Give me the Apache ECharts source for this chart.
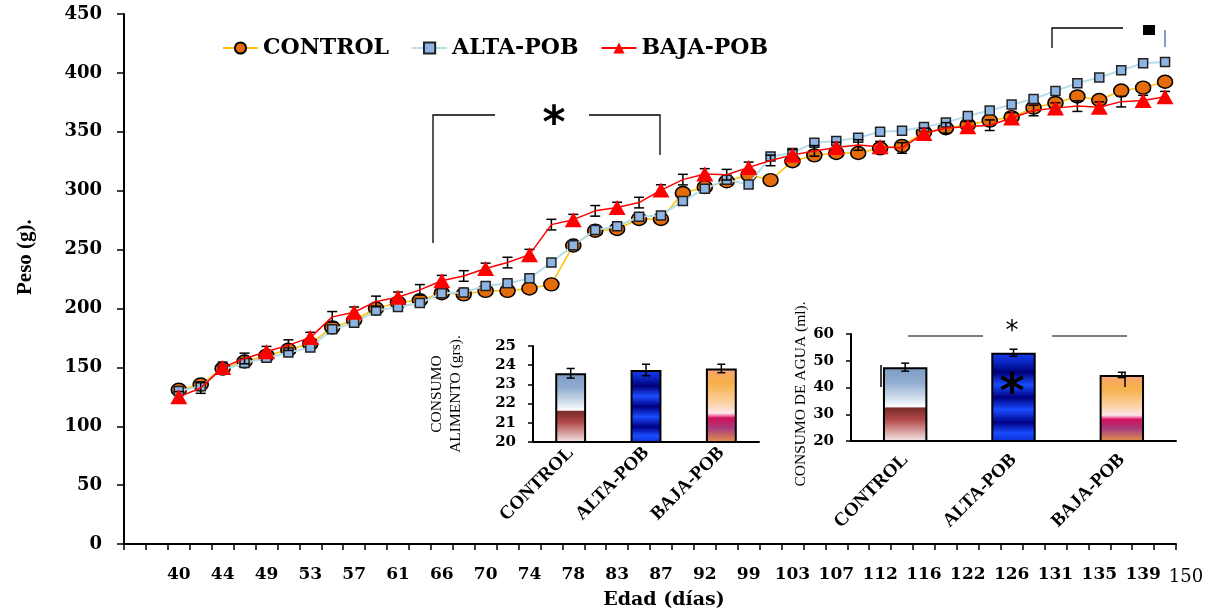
<!DOCTYPE html>
<html><head><meta charset="utf-8">
<script src="https://cdn.jsdelivr.net/npm/echarts@6/dist/echarts.min.js"></script>
<style>html,body{margin:0;padding:0;background:#fff}#c{width:1209px;height:615px}</style>
</head><body><div id="c"></div>
<script>
// ---- main chart data ----
const days = ['', '', '40','42','44','47','49','51','53','55','57','59','61','64','66','68','70','72','74','76','78','81','83','85','87','90','92','96','99','101','103','105','107','110','112','114','116','119','122','124','126','129','131','133','135','137','139','141'];
const endTickLabel = '150';
const control = [null,null,131,135.5,149,155,160,165,170,184,190,200,205,207,213,212,215,215,217,220.5,253.5,266,267.5,276,276,298,303,308,313.5,309,325,330,332,332,336,338,349.5,353,356,359.5,362.5,370.5,374.5,380,377,385,387.5,392.5];
const alta = [null,null,130,134,148,153.8,158.2,162.7,166.9,182.3,187.8,198.2,201.2,204.6,213,213.6,219.2,221.4,225.6,239,253.6,266.7,269.8,277.9,279,291.3,301.6,309.4,305.2,329,332,340.8,342.1,345,350,350.8,354.1,357.8,363.4,368.1,373.1,377.9,384.6,391.3,396.1,402.2,408.1,409.2];
const baja = [null,null,125,132.5,150,157.6,163.3,168.9,175.3,192.9,196.8,206,209.5,215.8,223.6,227.6,234,239,245.7,271.2,275.4,282.9,285.7,289.9,300.5,309.4,314.2,313.6,319.8,325.7,330.4,333.8,336.6,338.8,337.4,336.3,348.6,353.3,354.2,355.6,361.7,368.1,370.1,371.8,370.9,375.6,376.5,379.8];
const errBaja = [0,0,4.5,4.5,4.5,4.5,4.5,4.5,4.5,4.5,4.5,4.5,4.5,4.5,4.5,4.5,4.5,4.5,4.5,4.5,4.5,4.5,4.5,4.5,4.5,4.5,4.5,4.5,4.5,4.5,4.5,4.5,4.5,4.5,4.5,4.5,4.5,4.5,4.5,4.5,4.5,4.5,4.5,4.5,4.5,4.5,4.5,4.5];
const yTicks = [0,50,100,150,200,250,300,350,400,450];

// ---- inset data ----
const groups = ['CONTROL','ALTA-POB','BAJA-POB'];
const foodMean = [23.58, 23.75, 23.83];
const foodErr = [0.25, 0.3, 0.22];
const waterMean = [47.6, 53.0, 44.7];
const waterErr = [1.5, 1.3, 1.0];

const chart = echarts.init(document.getElementById('c'), null, {renderer:'canvas'});
const G = echarts.graphic;
const serifB = {fontFamily:'DejaVu Serif', fontWeight:'bold', color:'#000'};

const gradControl = new G.LinearGradient(0,0,0,1,[
  {offset:0,color:'#7d9cc4'},{offset:0.2,color:'#8fabcf'},{offset:0.45,color:'#dfe8f2'},
  {offset:0.53,color:'#ffffff'},{offset:0.545,color:'#7b2b2b'},{offset:0.7,color:'#b04848'},
  {offset:0.86,color:'#d8a0a0'},{offset:1,color:'#f6eeee'}]);
const gradAlta = new G.LinearGradient(0,0,0,1,[
  {offset:0,color:'#1a3cf0'},{offset:0.1,color:'#0a28c8'},{offset:0.22,color:'#000078'},
  {offset:0.36,color:'#1a4cff'},{offset:0.5,color:'#000080'},{offset:0.64,color:'#1a4cff'},
  {offset:0.78,color:'#000088'},{offset:0.9,color:'#1a4cff'},{offset:1,color:'#0a2ad0'}]);
const gradBaja = new G.LinearGradient(0,0,0,1,[
  {offset:0,color:'#f4a0a0'},{offset:0.07,color:'#f7a860'},{offset:0.2,color:'#f6b04a'},
  {offset:0.45,color:'#fbd0a0'},{offset:0.6,color:'#fde6e8'},{offset:0.635,color:'#f070a8'},
  {offset:0.665,color:'#d0105a'},{offset:0.8,color:'#a83c7c'},{offset:1,color:'#e8964a'}]);
const barFills = [gradControl, gradAlta, gradBaja];

function errRender(capHalf){
  return function(params, api){
    const x = api.value(0);
    const lo = api.coord([x, api.value(1)]);
    const hi = api.coord([x, api.value(2)]);
    const st = {stroke:'#000', lineWidth:1.5};
    return {type:'group', children:[
      {type:'line', shape:{x1:lo[0],y1:lo[1],x2:hi[0],y2:hi[1]}, style:st},
      {type:'line', shape:{x1:hi[0]-capHalf,y1:hi[1],x2:hi[0]+capHalf,y2:hi[1]}, style:st},
      {type:'line', shape:{x1:lo[0]-capHalf,y1:lo[1],x2:lo[0]+capHalf,y2:lo[1]}, style:st}
    ]};
  };
}

const bajaErrData = baja.map((v,i)=> v==null?null:[i, v-errBaja[i], v+errBaja[i]]).filter(Boolean);
const foodErrData = foodMean.map((v,i)=>[i, v-foodErr[i], v+foodErr[i]]);
const waterErrData = waterMean.map((v,i)=>[i, v-waterErr[i], v+waterErr[i]]);

const axisBlack = {lineStyle:{color:'#000', width:2}};

const option = {
  animation:false,
  backgroundColor:'#fff',
  legend:{
    left:217, top:32, itemWidth:35, itemHeight:14, itemGap:22,
    data:['CONTROL','ALTA-POB','BAJA-POB'],
    textStyle:{fontFamily:'DejaVu Serif', fontWeight:'bold', fontSize:22, color:'#000'}
  },
  grid:[
    {left:124, right:33, top:14, bottom:64},
    {left:533, right:450, top:346, bottom:173},
    {left:851, right:33, top:334, bottom:174}
  ],
  xAxis:[
    {gridIndex:0, type:'category', data:days, boundaryGap:true,
     axisLine:axisBlack,
     axisTick:{show:true, interval:0, length:6, lineStyle:{color:'#000', width:1.5}},
     axisLabel:{
       interval:(i)=> (i>=2 && i%2===0) || i===days.length-1,
       formatter:(v,i)=> i===days.length-1 ? '{e|'+endTickLabel+'}' : v,
       margin:22, fontSize:17, ...serifB,
       rich:{e:{fontFamily:'DejaVu Serif', fontWeight:'normal', fontSize:18, color:'#000', padding:[2,0,0,42]}}
     },
     name:'Edad (días)', nameLocation:'middle', nameGap:38,
     nameTextStyle:{fontFamily:'DejaVu Serif', fontWeight:'bold', fontSize:19, color:'#000', padding:[0,0,0,28]},
     splitLine:{show:false}},
    {gridIndex:1, type:'category', data:groups, boundaryGap:true,
     axisLine:axisBlack, axisTick:{length:5, lineStyle:{color:'#000', width:1.5}},
     axisLabel:{interval:0, rotate:45, margin:8, fontFamily:'Liberation Serif', fontWeight:'bold', fontSize:19, color:'#000'}},
    {gridIndex:2, type:'category', data:groups, boundaryGap:true,
     axisLine:axisBlack, axisTick:{length:5, lineStyle:{color:'#000', width:1.5}},
     axisLabel:{interval:0, rotate:45, margin:16, fontFamily:'Liberation Serif', fontWeight:'bold', fontSize:19, color:'#000'}}
  ],
  yAxis:[
    {gridIndex:0, type:'value', min:yTicks[0], max:yTicks[yTicks.length-1], interval:50,
     axisLine:{show:true, ...axisBlack}, axisTick:{show:true, length:7, lineStyle:{color:'#000', width:1.5}},
     axisLabel:{margin:22, fontSize:18, ...serifB}, splitLine:{show:false},
     name:'Peso (g).', nameLocation:'middle', nameGap:88, nameRotate:90,
     nameTextStyle:{fontFamily:'Liberation Serif', fontWeight:'bold', fontSize:21, color:'#000', padding:[0,0,0,44]}},
    {gridIndex:1, type:'value', min:20, max:25, interval:1,
     axisLine:{show:true, ...axisBlack}, axisTick:{show:true, length:5, lineStyle:{color:'#000', width:1.5}},
     axisLabel:{margin:17, fontSize:15, ...serifB}, splitLine:{show:false},
     name:'CONSUMO\nALIMENTO (grs).', nameLocation:'middle', nameGap:68, nameRotate:90,
     nameTextStyle:{fontFamily:'Liberation Serif', fontSize:15.5, lineHeight:19, color:'#000'}},
    {gridIndex:2, type:'value', min:20, max:60, interval:10,
     axisLine:{show:true, ...axisBlack}, axisTick:{show:true, length:5, lineStyle:{color:'#000', width:1.5}},
     axisLabel:{margin:17, fontSize:15, ...serifB}, splitLine:{show:false},
     name:'CONSUMO DE AGUA (ml).', nameLocation:'middle', nameGap:42, nameRotate:90,
     nameTextStyle:{fontFamily:'Liberation Serif', fontSize:15.5, color:'#000', padding:[0,13,0,0]}}
  ],
  series:[
    {name:'CONTROL', type:'line', data:control, symbol:'circle', symbolSize:[15,13], z:3,
     itemStyle:{color:'#E46C0A', borderColor:'#000', borderWidth:1.5},
     lineStyle:{color:'#FFC000', width:1.5}},
    {name:'ALTA-POB', type:'line', data:alta, symbol:'rect', symbolSize:9, z:4,
     itemStyle:{color:'#8DB4E2', borderColor:'#222', borderWidth:1.5},
     lineStyle:{color:'#B7DEE8', width:2}},
    {type:'custom', data:bajaErrData, renderItem:errRender(5), z:5, silent:true},
    {name:'BAJA-POB', type:'line', data:baja, symbol:'triangle', symbolSize:[17,15], z:6,
     itemStyle:{color:'#FF0000'}, lineStyle:{color:'#FF0000', width:1.5}},
    {type:'bar', xAxisIndex:1, yAxisIndex:1, barWidth:'41%',
     data:foodMean.map((v,i)=>({value:v, itemStyle:{color:barFills[i], borderColor:'#000', borderWidth:2}}))},
    {type:'custom', xAxisIndex:1, yAxisIndex:1, data:foodErrData, renderItem:errRender(4), z:5},
    {type:'bar', xAxisIndex:2, yAxisIndex:2, barWidth:'41%',
     data:waterMean.map((v,i)=>({value:v, itemStyle:{color:barFills[i], borderColor:'#000', borderWidth:2}}))},
    {type:'custom', xAxisIndex:2, yAxisIndex:2, data:waterErrData, renderItem:errRender(4), z:5}
  ],
  graphic:[
    {type:'polyline', shape:{points:[[433,243],[433,115],[495,115]]}, style:{stroke:'#000', lineWidth:1.3, fill:null}},
    {type:'polyline', shape:{points:[[589,115],[660,115],[660,155]]}, style:{stroke:'#000', lineWidth:1.3, fill:null}},
    {type:'text', x:554, y:126, style:{text:'*', font:'bold 44px "DejaVu Sans"', fill:'#000', textAlign:'center', textVerticalAlign:'middle'}},
    {type:'polyline', shape:{points:[[1052,48],[1052,28],[1123,28]]}, style:{stroke:'#000', lineWidth:1.3, fill:null}},
    {type:'rect', shape:{x:1143, y:25, width:12, height:10}, style:{fill:'#000'}},
    {type:'line', shape:{x1:1165,y1:30,x2:1165,y2:47}, style:{stroke:'#4F81BD', lineWidth:1.5}},
    {type:'line', shape:{x1:908,y1:336,x2:983,y2:336}, style:{stroke:'#000', lineWidth:1.2}},
    {type:'line', shape:{x1:1052,y1:336,x2:1127,y2:336}, style:{stroke:'#000', lineWidth:1.2}},
    {type:'text', x:1012, y:332, z:10, style:{text:'*', font:'26px "DejaVu Sans"', fill:'#000', textAlign:'center', textVerticalAlign:'middle'}},
    {type:'text', x:1012, y:395, z:10, style:{text:'*', font:'bold 48px "DejaVu Sans"', fill:'#000', textAlign:'center', textVerticalAlign:'middle'}},
    {type:'line', z:10, shape:{x1:881,y1:365,x2:881,y2:387}, style:{stroke:'#000', lineWidth:1.5}},
    {type:'line', z:10, shape:{x1:1125,y1:372,x2:1125,y2:387}, style:{stroke:'#000', lineWidth:1.5}}
  ]
};
chart.setOption(option);
</script></body></html>
